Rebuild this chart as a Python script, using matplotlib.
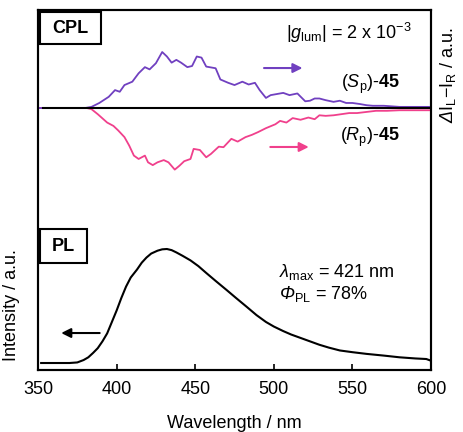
import matplotlib
matplotlib.use("Agg")
import matplotlib.pyplot as plt
from matplotlib.patches import Rectangle

plt.rcParams['font.family'] = ['Liberation Sans', 'DejaVu Sans']
plt.rcParams['mathtext.fontset'] = 'custom'
plt.rcParams['mathtext.rm'] = 'Liberation Sans'
plt.rcParams['mathtext.it'] = 'Liberation Sans:italic'
plt.rcParams['mathtext.bf'] = 'Liberation Sans:bold'
# italic greek capitals: 'it' forces them upright, so borrow the sf slot
plt.rcParams['mathtext.sf'] = 'Liberation Sans:italic'
plt.rcParams['font.size'] = 13

# CPL (S_p)-45, arbitrary units
sp_nm = [350, 380, 384, 389, 395, 399, 402, 405, 410, 414, 418, 421, 425, 429, 432, 435,
         438, 441, 445, 448, 451, 454, 457, 463, 466, 471, 475, 480, 484, 488, 491, 495,
         498, 502, 506, 510, 515, 520, 523, 526, 529, 533, 538, 542, 546, 550, 555, 559,
         563, 570, 580, 590, 600]
sp_val = [0, 0, 0.02, 0.09, 0.20, 0.32, 0.29, 0.41, 0.47, 0.62, 0.73, 0.69, 0.80, 1.0, 0.92, 0.81,
          0.86, 0.81, 0.73, 0.75, 0.92, 0.90, 0.74, 0.71, 0.51, 0.45, 0.41, 0.47, 0.42, 0.45, 0.32, 0.18,
          0.23, 0.25, 0.27, 0.23, 0.26, 0.12, 0.13, 0.17, 0.17, 0.14, 0.11, 0.13, 0.09, 0.09, 0.07, 0.05,
          0.04, 0.04, 0.02, 0.02, 0.02]

# CPL (R_p)-45
rp_nm = [348, 381, 384, 388, 394, 398, 401, 405, 408, 411, 414, 416, 418, 420, 423, 426,
         430, 433, 437, 440, 443, 447, 449, 453, 457, 460, 465, 468, 473, 477, 482, 486,
         490, 495, 501, 504, 508, 512, 517, 522, 526, 529, 533, 538, 543, 548, 553, 559,
         565, 572, 580, 590, 600]
rp_val = [0, 0, -0.02, -0.11, -0.26, -0.32, -0.40, -0.52, -0.67, -0.85, -0.91, -0.88, -0.85, -0.97, -1.02, -0.97,
          -0.93, -0.97, -1.10, -1.03, -0.95, -0.91, -0.73, -0.75, -0.88, -0.82, -0.69, -0.70, -0.55, -0.60, -0.52, -0.48,
          -0.43, -0.36, -0.29, -0.23, -0.26, -0.18, -0.21, -0.17, -0.20, -0.13, -0.14, -0.13, -0.11, -0.09, -0.09, -0.07,
          -0.05, -0.05, -0.04, -0.04, -0.04]

# PL, normalised
pl_nm = [352, 370, 375, 379, 382, 385, 388, 391, 394, 397, 400, 403, 406, 409, 413, 416,
         419, 422, 426, 429, 432, 435, 438, 442, 447, 452, 457, 463, 470, 476, 483, 489,
         495, 500, 506, 511, 517, 523, 529, 535, 542, 550, 559, 570, 580, 590, 597, 600]
pl_val = [0, 0, 0.005, 0.026, 0.05, 0.088, 0.13, 0.19, 0.26, 0.36, 0.46, 0.57, 0.67, 0.75, 0.82, 0.88,
          0.925, 0.96, 0.985, 0.997, 1.0, 0.99, 0.97, 0.94, 0.90, 0.85, 0.79, 0.72, 0.64, 0.57, 0.49, 0.42,
          0.36, 0.32, 0.28, 0.25, 0.22, 0.19, 0.16, 0.135, 0.11, 0.095, 0.08, 0.065, 0.05, 0.04, 0.035, 0.02]

purple = '#7040c0'
pink = '#f0408c'

fig = plt.figure(figsize=(4.64, 4.32), dpi=100)
ax = fig.add_axes([0.0819, 0.1435, 0.847, 0.8333])
ax2 = ax.twinx()

ax.plot(pl_nm, pl_val, color='k', lw=1.5)
ax2.plot(rp_nm, rp_val, color=pink, lw=1.3)
ax2.plot(sp_nm, sp_val, color=purple, lw=1.3)
ax2.plot([353, 600], [0, 0], color='k', lw=1.5)

ax.set_xlim(350, 600)
ax.set_ylim(-0.0614, 3.096)
ax2.set_ylim(-4.679, 1.75)

ax.set_xticks([350, 400, 450, 500, 550, 600])
ax.tick_params(axis='x', direction='in', length=4, width=1.2, pad=8)
ax.set_yticks([])
ax2.set_yticks([])
for a in (ax, ax2):
    for s in a.spines.values():
        s.set_linewidth(1.5)

ax.set_xlabel('Wavelength / nm', labelpad=12)
ax.set_ylabel('Intensity / a.u.')
ax.yaxis.set_label_coords(-0.046, 0.18)
ax2.set_ylabel(r'$\mathsf{Δ}$I$_{\rm L}$−I$_{\rm R}$ / a.u.')
ax2.yaxis.set_label_coords(1.018, 0.82)

# arrows
ax2.annotate('', xy=(520, 0.714), xytext=(492, 0.714),
             arrowprops=dict(arrowstyle='-|>', color=purple, lw=1.5, mutation_scale=14))
ax2.annotate('', xy=(524, -0.696), xytext=(496, -0.696),
             arrowprops=dict(arrowstyle='-|>', color=pink, lw=1.5, mutation_scale=14))
ax.annotate('', xy=(363, 0.263), xytext=(391, 0.263),
            arrowprops=dict(arrowstyle='-|>', color='k', lw=1.5, mutation_scale=14))

# boxed panel labels
ax2.add_patch(Rectangle((0.005, 0.906), 0.155, 0.089, transform=ax.transAxes,
                        fc='white', ec='k', lw=1.5, zorder=5))
ax2.text(0.0825, 0.95, 'CPL', transform=ax.transAxes, fontweight='bold',
         ha='center', va='center', zorder=6)
ax2.add_patch(Rectangle((0.005, 0.297), 0.12, 0.095, transform=ax.transAxes,
                        fc='white', ec='k', lw=1.5, zorder=5))
ax2.text(0.065, 0.344, 'PL', transform=ax.transAxes, fontweight='bold',
         ha='center', va='center', zorder=6)

ax.text(0.95, 0.935, r'$|\mathit{g}_{\rm lum}|$ = 2 x 10$^{-3}$', transform=ax.transAxes,
        ha='right', va='center')
ax2.text(0.92, 0.792, r'($\mathit{S}_{\rm p}$)-$\mathbf{45}$', transform=ax.transAxes,
         ha='right', va='center')
ax2.text(0.92, 0.647, r'($\mathit{R}_{\rm p}$)-$\mathbf{45}$', transform=ax.transAxes,
         ha='right', va='center')
ax.text(0.612, 0.272, r'$\mathsf{λ}_{\rm max}$ = 421 nm', transform=ax.transAxes,
        ha='left', va='center')
ax.text(0.612, 0.211, r'$\mathsf{Φ}_{\rm PL}$ = 78%', transform=ax.transAxes,
        ha='left', va='center')

fig.savefig('out.png', dpi=100)
